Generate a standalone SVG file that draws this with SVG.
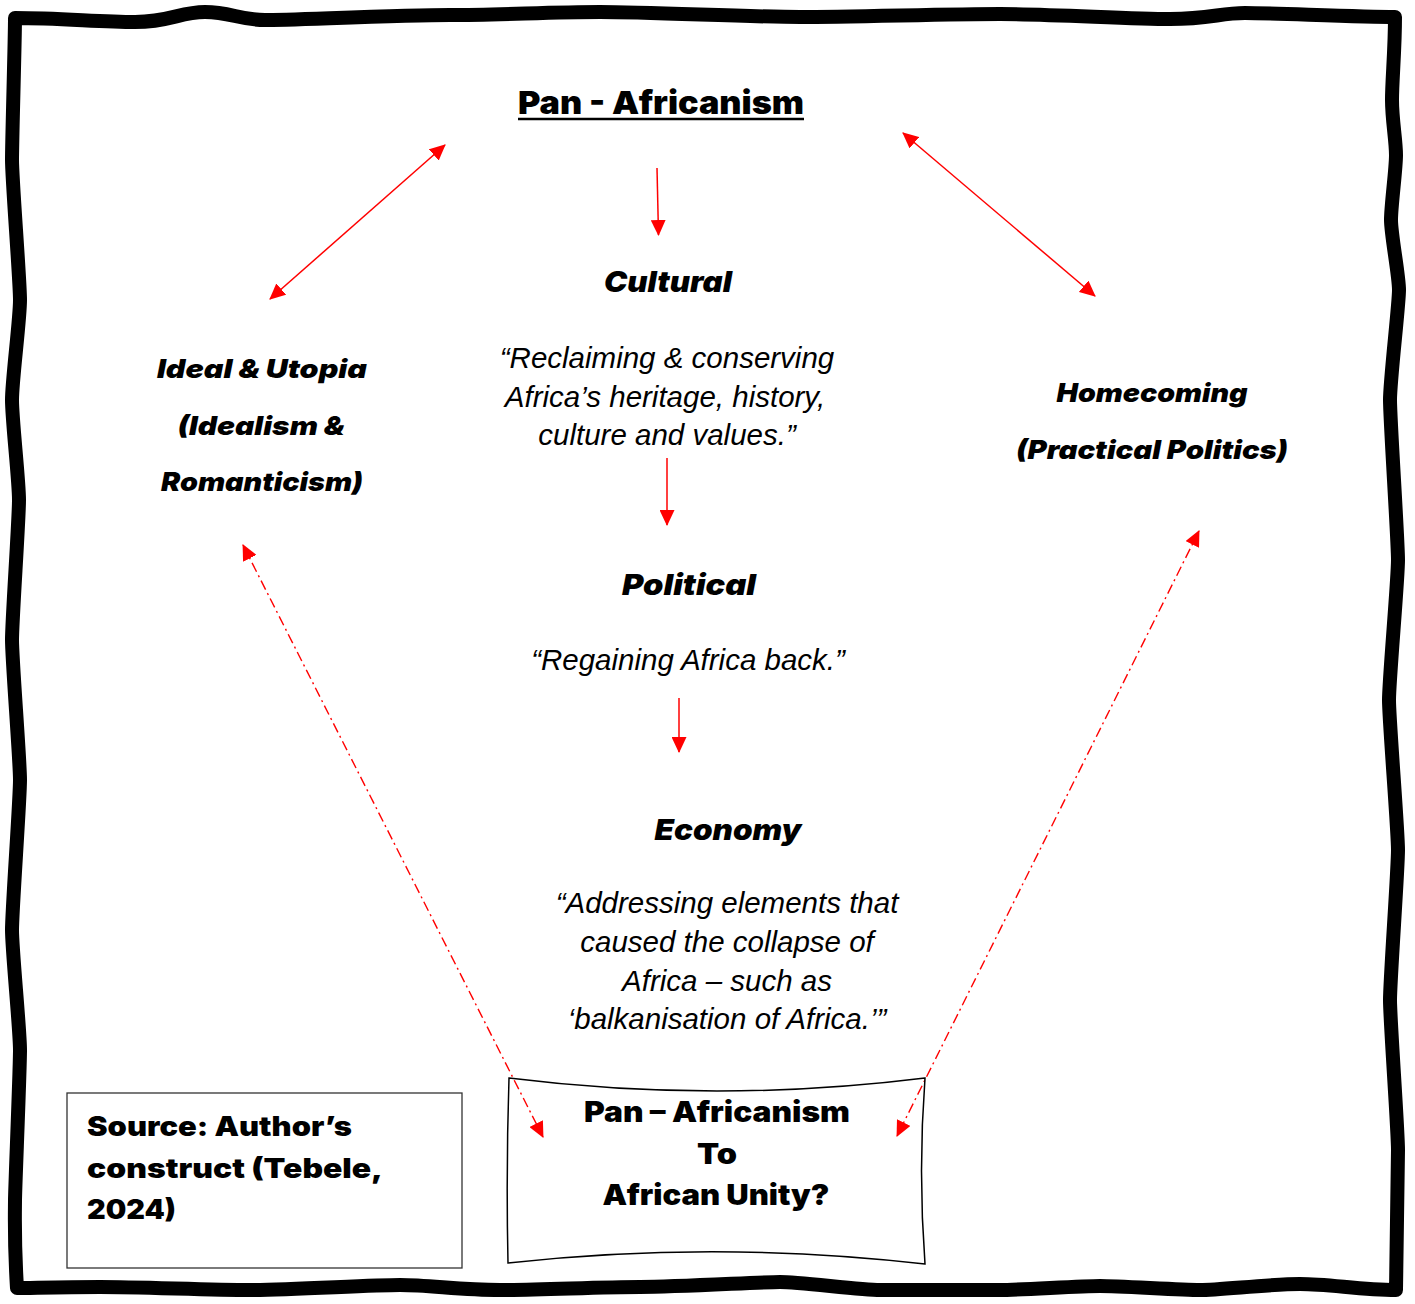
<svg xmlns="http://www.w3.org/2000/svg" width="1415" height="1304" viewBox="0 0 1415 1304">
  <style>
    .heavy { font-family: "Inter", "Liberation Sans", sans-serif; font-weight: 900; fill: #000; }
    .hi { font-style: italic; }
    .quote { font-family: "Liberation Sans", Arial, sans-serif; font-style: italic; font-size: 29.5px; fill: #000; text-anchor: middle; }
    .mid { text-anchor: middle; }
    .solid { stroke: #ff0000; stroke-width: 1.5; fill: none; }
    .dashdot { stroke: #ff0000; stroke-width: 1.4; fill: none; stroke-dasharray: 10 4 2 4; }
  </style>
  <defs>
    <marker id="head" markerUnits="userSpaceOnUse" viewBox="0 0 16 15" refX="15" refY="7.5" markerWidth="16" markerHeight="15" orient="auto-start-reverse">
      <path d="M0,0 L16,7.5 L0,15 Z" fill="#ff0000"/>
    </marker>
  </defs>

  <rect width="1415" height="1304" fill="#ffffff"/>

  <!-- hand-drawn outer frame -->
  <path id="frame" fill="none" stroke="#000" stroke-width="14" stroke-linejoin="round" stroke-linecap="round"
    d="M17,1288 C14,1240 15,1210 15,1200 S20,1070 20,1050 S12,950 12,930 S20,800 20,780 S12,660 12,640 S19,520 19,500 S12,420 12,400 S20,320 20,300 S12,180 12,160 S15,40 15,18
       C60,18 100,22 135,22 S180,12 205,12 S240,20 265,20 S400,15 450,15 S550,12 600,12 S750,17 800,17 S950,14 1000,14 S1130,19 1170,19 S1220,13 1245,13 S1360,17 1395,17
       C1395,50 1392,80 1392,100 S1396,140 1396,155 S1391,205 1391,220 S1399,275 1399,290 S1390,380 1390,400 S1398,540 1398,560 S1389,680 1389,700 S1398,830 1398,850 S1390,980 1390,1000 S1398,1130 1398,1150 S1396,1270 1396,1290
       C1360,1290 1330,1284 1300,1284 S1220,1290 1200,1290 S1120,1286 1100,1286 S1020,1290 1000,1290 S900,1290 880,1290 S800,1282 780,1282 S680,1287 640,1287 S540,1290 500,1290 S430,1285 400,1285 S290,1290 250,1290 S140,1287 100,1287 S30,1288 17,1288 Z"/>

  <!-- connectors -->
  <g id="connectors">
    <line class="solid" x1="657" y1="168" x2="658.5" y2="235" marker-end="url(#head)"/>
    <line class="solid" x1="667" y1="458" x2="667" y2="525" marker-end="url(#head)"/>
    <line class="solid" x1="679" y1="698" x2="679" y2="752" marker-end="url(#head)"/>
    <line class="solid" x1="445" y1="145" x2="270" y2="299" marker-start="url(#head)" marker-end="url(#head)"/>
    <line class="solid" x1="903" y1="133" x2="1095" y2="296" marker-start="url(#head)" marker-end="url(#head)"/>
    <line class="dashdot" x1="243" y1="545" x2="543" y2="1137" marker-start="url(#head)" marker-end="url(#head)"/>
    <line class="dashdot" x1="1199" y1="531" x2="897" y2="1136" marker-start="url(#head)" marker-end="url(#head)"/>
  </g>

  <!-- title -->
  <g id="title">
    <text class="heavy mid" x="661" y="114" font-size="32" textLength="286" lengthAdjust="spacingAndGlyphs">Pan - Africanism</text>
    <line x1="518" y1="119" x2="804" y2="119" stroke="#000" stroke-width="2.5"/>
  </g>

  <g id="cultural">
    <text class="heavy hi mid" x="668" y="292" font-size="29" textLength="128" lengthAdjust="spacingAndGlyphs">Cultural</text>
    <text class="quote" x="667" y="368">“Reclaiming &amp; conserving</text>
    <text class="quote" x="665" y="407">Africa’s heritage, history,</text>
    <text class="quote" x="667" y="445">culture and values.”</text>
  </g>

  <g id="political">
    <text class="heavy hi mid" x="689" y="595" font-size="29" textLength="134" lengthAdjust="spacingAndGlyphs">Political</text>
    <text class="quote" x="688" y="670">“Regaining Africa back.”</text>
  </g>

  <g id="economy">
    <text class="heavy hi mid" x="728" y="840" font-size="29" textLength="147" lengthAdjust="spacingAndGlyphs">Economy</text>
    <text class="quote" x="727" y="913">“Addressing elements that</text>
    <text class="quote" x="727" y="952">caused the collapse of</text>
    <text class="quote" x="727" y="991">Africa – such as</text>
    <text class="quote" x="727" y="1029">‘balkanisation of Africa.’”</text>
  </g>

  <g id="ideal">
    <text class="heavy hi mid" x="262" y="378" font-size="26" textLength="210" lengthAdjust="spacingAndGlyphs">Ideal &amp; Utopia</text>
    <text class="heavy hi mid" x="261" y="435" font-size="26" textLength="167" lengthAdjust="spacingAndGlyphs">(Idealism &amp;</text>
    <text class="heavy hi mid" x="262" y="491" font-size="26" textLength="202" lengthAdjust="spacingAndGlyphs">Romanticism)</text>
  </g>

  <g id="homecoming">
    <text class="heavy hi mid" x="1152" y="402" font-size="26" textLength="191" lengthAdjust="spacingAndGlyphs">Homecoming</text>
    <text class="heavy hi mid" x="1152" y="459" font-size="26" textLength="272" lengthAdjust="spacingAndGlyphs">(Practical Politics)</text>
  </g>

  <g id="source">
    <rect x="67" y="1093" width="395" height="175" fill="#fff" stroke="#333" stroke-width="1.3"/>
    <text class="heavy" x="87" y="1136" font-size="27" textLength="265" lengthAdjust="spacingAndGlyphs">Source: Author’s</text>
    <text class="heavy" x="87" y="1178" font-size="27" textLength="296" lengthAdjust="spacingAndGlyphs">construct (Tebele,</text>
    <text class="heavy" x="87" y="1219" font-size="27" textLength="89" lengthAdjust="spacingAndGlyphs">2024)</text>
  </g>

  <g id="unity">
    <path d="M509,1078 Q717,1104 925,1078 Q918,1171 925,1264 Q716,1240 508,1263 Q506,1170 509,1078 Z" fill="none" stroke="#000" stroke-width="1.5"/>
    <text class="heavy mid" x="717" y="1122" font-size="28" textLength="266" lengthAdjust="spacingAndGlyphs">Pan – Africanism</text>
    <text class="heavy mid" x="717" y="1164" font-size="28" textLength="40" lengthAdjust="spacingAndGlyphs">To</text>
    <text class="heavy mid" x="716" y="1205" font-size="28" textLength="227" lengthAdjust="spacingAndGlyphs">African Unity?</text>
  </g>
</svg>
